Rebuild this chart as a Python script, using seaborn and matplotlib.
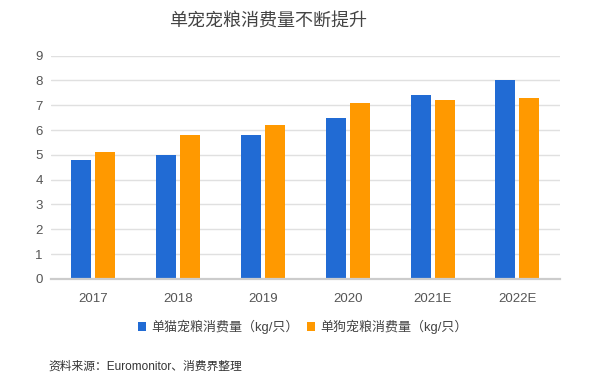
import matplotlib
matplotlib.use("Agg")
import matplotlib.pyplot as plt
import seaborn as sns
import pandas as pd
from matplotlib.patches import Patch

years = ["2017", "2018", "2019", "2020", "2021E", "2022E"]
cat_values = [4.8, 5.0, 5.8, 6.5, 7.4, 8.0]
dog_values = [5.1, 5.8, 6.2, 7.1, 7.2, 7.3]
series_names = ["单猫宠粮消费量（kg/只）", "单狗宠粮消费量（kg/只）"]
colors = ["#216BD4", "#FF9900"]
title = "单宠宠粮消费量不断提升"
source = "资料来源：Euromonitor、消费界整理"

df = pd.DataFrame({
    "year": years * 2,
    "value": cat_values + dog_values,
    "series": [series_names[0]] * len(years) + [series_names[1]] * len(years),
})

sns.set_style("white")
plt.rcParams["font.family"] = ["Liberation Sans", "Noto Sans CJK SC", "DejaVu Sans"]

fig = plt.figure(figsize=(6, 3.78), dpi=100)
ax = fig.add_axes([0.085, 0.262, 0.848, 0.591])

sns.barplot(data=df, x="year", y="value", hue="series", palette=colors,
            width=0.566, gap=0.166, ax=ax, legend=False, saturation=1,
            edgecolor="none", linewidth=0)

ax.set_ylim(0, 9)
ax.set_xlim(-0.5, len(years) - 0.5)
ax.set_yticks(range(0, 10))
ax.yaxis.grid(True, color="#e0e0e0", linewidth=1)
ax.set_axisbelow(True)
for s in ["top", "right", "left"]:
    ax.spines[s].set_visible(False)
ax.spines["bottom"].set_color("#cccccc")
ax.spines["bottom"].set_linewidth(1.6)
ax.tick_params(axis="both", length=0, labelsize=9.5, colors="#555555")
ax.tick_params(axis="y", pad=6)
ax.tick_params(axis="x", pad=10)
ax.set_xlabel("")
ax.set_ylabel("")

fig.text(0.447, 0.943, title, ha="center", va="center", fontsize=13, color="#444444")

handles = [Patch(facecolor=c, edgecolor="none") for c in colors]
fig.legend(handles, series_names, loc="center", bbox_to_anchor=(0.505, 0.135),
           ncol=2, frameon=False, fontsize=9.4, handlelength=0.65, handleheight=0.65,
           handletextpad=0.4, columnspacing=0.6, labelcolor="#444444")

fig.text(0.08, 0.029, source, ha="left", va="center", fontsize=8.5, color="#333333")

fig.savefig("out.png", dpi=100, facecolor="white")
